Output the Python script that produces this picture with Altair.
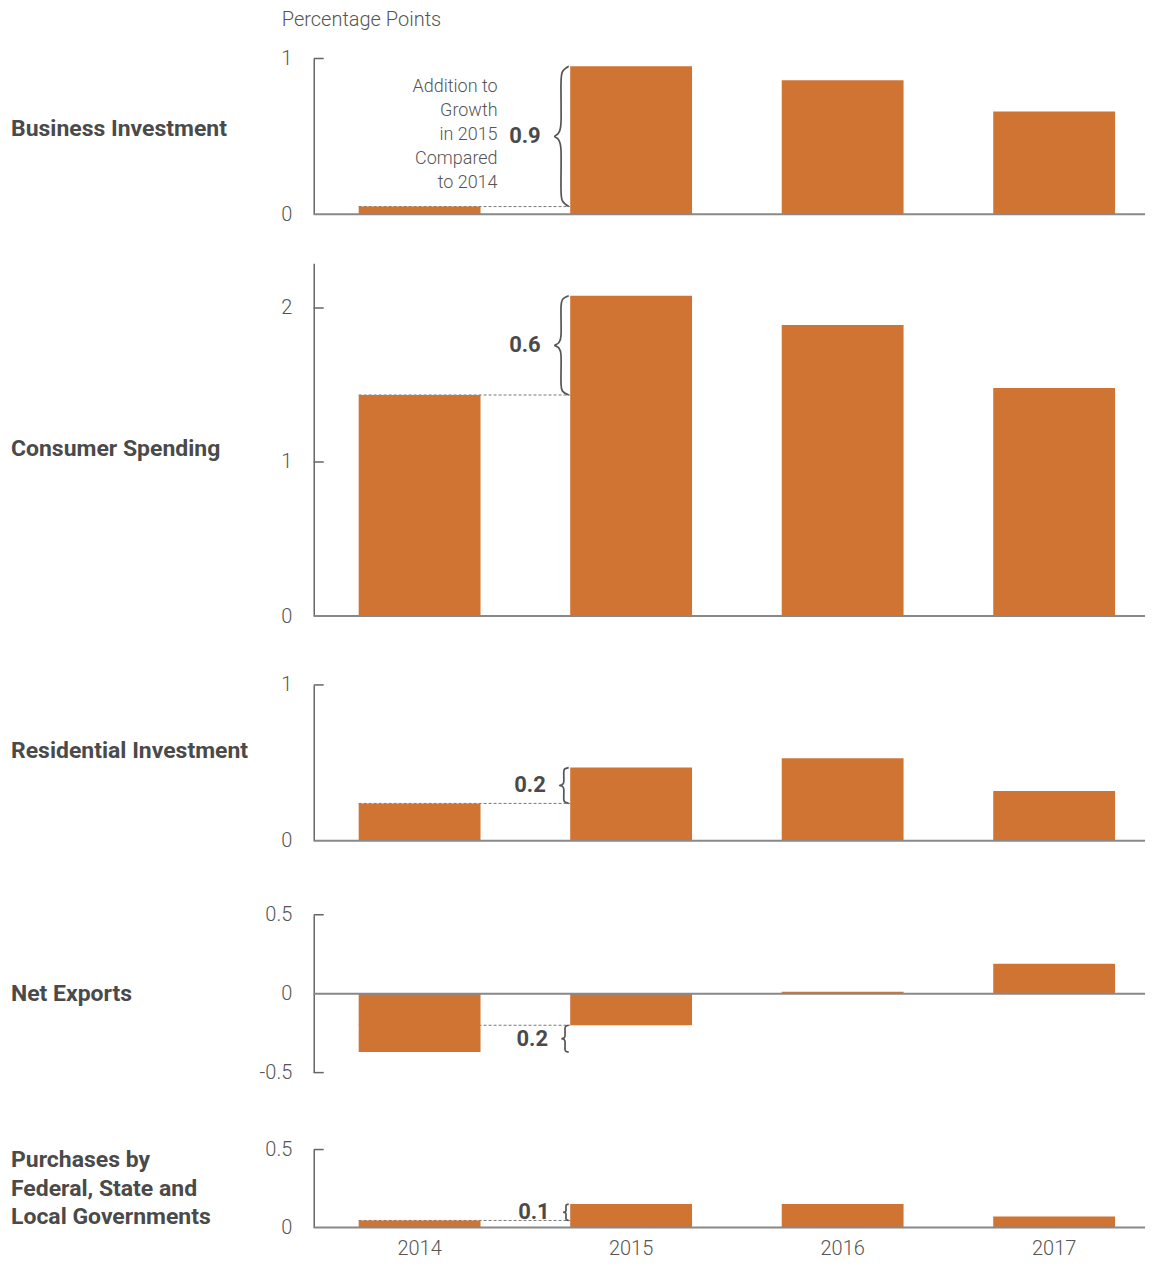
import altair as alt
import pandas as pd

# ---------------- data ----------------
years = ["2014", "2015", "2016", "2017"]
categories = [
    "Business Investment",
    "Consumer Spending",
    "Residential Investment",
    "Net Exports",
    "Purchases by\nFederal, State and\nLocal Governments",
]
business = [0.05, 0.95, 0.86, 0.66]
consumer = [1.435, 2.08, 1.89, 1.48]
residential = [0.24, 0.47, 0.53, 0.32]
net_exports = [-0.37, -0.20, 0.012, 0.19]
government = [0.045, 0.15, 0.15, 0.07]
change_labels = ["0.9", "0.6", "0.2", "0.2", "0.1"]
y_domains = [[0, 1], [0, 2.29], [0, 1], [-0.5, 0.5], [0, 0.5]]
y_ticks = [[0, 1], [0, 1, 2], [0, 1], [-0.5, 0, 0.5], [0, 0.5]]
note_lines = ["Addition to", "Growth", "in 2015", "Compared", "to 2014"]
y_title = "Percentage Points"

series = [business, consumer, residential, net_exports, government]

# ---------------- layout / style ----------------
FONT = "Roboto"
BAR = "#D07434"
TXT = "#4a4a4a"
W = 832
STEP = 211.7
START_OFF = 45
P_IN = 0.424
P_OUT = (W / STEP - 4 + P_IN) / 2
ALIGN = START_OFF / (W - STEP * (4 - P_IN))
START = START_OFF

view_heights = [206, 402, 225, 232, 155]
y_ranges = [[206, 50], [402, 49], [225, 69], [232, 74], [155, 77]]
label_center = [121, 235, 135, 153, 116]
CAT_LH = 29
NOTE_LH = 24

px_scale = alt.Scale(domain=[0, W], range=[0, W], nice=False, zero=False)

brace_shape = [(0, 0), (0.45, 0.04), (0.55, 0.12), (0.55, 0.40), (0.72, 0.475),
               (1.0, 0.5), (0.72, 0.525), (0.55, 0.60), (0.55, 0.88), (0.45, 0.96), (0, 1)]


def yaxis(i):
    return alt.Axis(values=y_ticks[i], ticks=False, grid=False, domainColor="#666",
                    domainWidth=1.5, labelFontSize=20, labelColor="#555", labelFont=FONT,
                    labelFontWeight=300, labelPadding=22, labelExpr="'' + datum.value")


def panel(i):
    vals = series[i]
    ysc = alt.Scale(domain=y_domains[i], range=y_ranges[i], nice=False, zero=False)
    ya = yaxis(i)

    def Y():
        return alt.Y("value:Q", scale=ysc, axis=ya, title=None)

    if i == 4:
        xaxis = alt.Axis(labelAngle=0, domain=False, ticks=False, tickSize=0, labelPadding=11,
                         labelFontSize=20, labelColor="#555", labelFont=FONT,
                         labelFontWeight=300, title=None)
    else:
        xaxis = None

    bars_df = pd.DataFrame({"year": years, "value": vals})
    bars = alt.Chart(bars_df).mark_bar(color=BAR).encode(
        x=alt.X("year:N", sort=years,
                scale=alt.Scale(domain=years, paddingInner=P_IN, paddingOuter=P_OUT, align=ALIGN),
                axis=xaxis),
        y=Y(),
    )

    v0, v1 = vals[0], vals[1]
    lo, hi = min(v0, v1), max(v0, v1)
    dash_level = v0 if abs(v0) < abs(v1) else v1
    dash_df = pd.DataFrame({"x0": [START], "x1": [START + STEP], "value": [dash_level]})
    dashed = alt.Chart(dash_df).mark_rule(color="#777", strokeDash=[3, 2], strokeWidth=1).encode(
        x=alt.X("x0:Q", scale=px_scale, axis=None), x2="x1:Q", y=Y())

    zero_df = pd.DataFrame({"value": [0]})
    zero = alt.Chart(zero_df).mark_rule(color="#888", strokeWidth=2).encode(
        x=alt.value(0), x2=alt.value(W), y=Y())

    tick_df = pd.DataFrame({"value": [t for t in y_ticks[i] if t != 0]})
    ticks = alt.Chart(tick_df).mark_rule(color="#666", strokeWidth=1.5).encode(
        x=alt.value(0), x2=alt.value(10), y=Y())

    px_per_unit = (y_ranges[i][0] - y_ranges[i][1]) / (y_domains[i][1] - y_domains[i][0])
    span = (hi - lo) * px_per_unit
    d = max(5, min(14, span / 4))
    xr = START + STEP - 1.5
    brace_df = pd.DataFrame({
        "px": [xr - sx * d for sx, t in brace_shape],
        "value": [lo + t * (hi - lo) for sx, t in brace_shape],
        "k": list(range(len(brace_shape))),
    })
    brace = alt.Chart(brace_df).mark_line(interpolate="cardinal", color="#555", strokeWidth=1.7).encode(
        x=alt.X("px:Q", scale=px_scale, axis=None), y=Y(), order="k:Q")

    lab_df = pd.DataFrame({"px": [xr - d - 14], "value": [(lo + hi) / 2], "text": [change_labels[i]]})
    lab = alt.Chart(lab_df).mark_text(align="right", baseline="middle", fontSize=22, fontWeight="bold",
                                      font=FONT, color=TXT).encode(
        x=alt.X("px:Q", scale=px_scale, axis=None), y=Y(), text="text:N")

    n_lines = categories[i].count("\n") + 1
    cat_df = pd.DataFrame({"text": [categories[i]]})
    cat = alt.Chart(cat_df).mark_text(align="left", baseline="middle", lineBreak="\n", lineHeight=CAT_LH,
                                      fontSize=23, fontWeight="bold", font=FONT, color=TXT).encode(
        x=alt.value(-303), y=alt.value(label_center[i] - (n_lines - 1) * CAT_LH / 2), text="text:N")

    layers = [dashed, bars, zero, ticks, brace, lab, cat]

    if i == 0:
        t_df = pd.DataFrame({"text": [y_title]})
        ttl = alt.Chart(t_df).mark_text(align="left", baseline="middle", fontSize=20, fontWeight=300,
                                        font=FONT, color="#555").encode(
            x=alt.value(-32), y=alt.value(11), text="text:N")
        n_df = pd.DataFrame({"text": ["\n".join(note_lines)]})
        note = alt.Chart(n_df).mark_text(align="right", baseline="middle", lineBreak="\n", lineHeight=NOTE_LH,
                                         fontSize=18, fontWeight=300, font=FONT, color="#555").encode(
            x=alt.value(184), y=alt.value(127 - (len(note_lines) - 1) * NOTE_LH / 2), text="text:N")
        layers += [ttl, note]

    return alt.layer(*layers).resolve_scale(x="independent").properties(
        width=W, height=view_heights[i])


chart = alt.vconcat(*[panel(i) for i in range(5)], spacing=0, bounds="flush").properties(
    padding={"left": 3, "top": 0, "right": 0, "bottom": 0}
).configure_view(stroke=None)

chart.save("out.html", embed_options={"renderer": "svg", "actions": False})
